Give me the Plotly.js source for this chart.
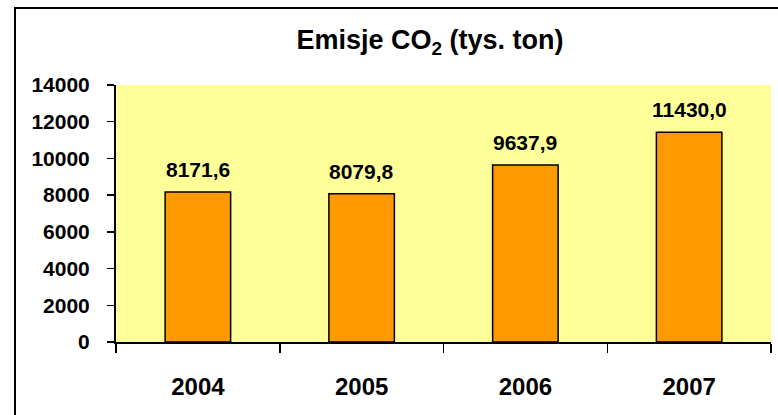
<!DOCTYPE html>
<html><head><meta charset="utf-8">
<script src="https://cdn.plot.ly/plotly-3.0.1.min.js"></script>
<style>html,body{margin:0;padding:0;background:#fff}#c{width:778px;height:415px}</style>
</head><body><div id="c"></div>
<script>
const years = ['2004', '2005', '2006', '2007'];
const emissions = [8171.6, 8079.8, 9637.9, 11430.0];
const yTicks = [0, 2000, 4000, 6000, 8000, 10000, 12000, 14000];

const fmt = v => v.toFixed(1).replace('.', ',');
const F = 'Arial, "Liberation Sans", sans-serif';

const L = 116, R = 7, T = 85, B = 73, W = 778, H = 415;
const pw = W - L - R, ph = H - T - B;

const trace = {
  type: 'bar', x: years, y: emissions, width: 0.4,
  marker: {color: '#FF9900', line: {color: '#000', width: 1.5}},
  hoverinfo: 'none'
};

const annotations = years.map((c, i) => ({
  x: i, y: emissions[i], xref: 'x', yref: 'y', text: fmt(emissions[i]),
  showarrow: false, yanchor: 'bottom', yshift: 9,
  font: {family: F, size: 21, color: '#000', weight: 'bold'}
}));

const layout = {
  width: W, height: H,
  margin: {l: L, r: R, t: T, b: B, pad: 0},
  paper_bgcolor: '#fff', plot_bgcolor: '#FFFF99',
  showlegend: false,
  title: {text: '<b>Emisje CO<sub>2</sub> (tys. ton)</b>', x: 430 / W, xanchor: 'center', y: 1 - 40 / H, yanchor: 'middle', font: {family: F, size: 27, color: '#000'}},
  xaxis: {
    type: 'category', range: [-0.5, years.length - 0.5], autorange: false,
    showgrid: false, showline: true, linecolor: '#000', linewidth: 2,
    ticks: 'outside', tickson: 'boundaries', ticklen: 9, tickwidth: 1.5, tickcolor: '#000',
    tickfont: {family: F, size: 24, color: '#000', weight: 'bold'}, ticklabelstandoff: 22,
    fixedrange: true
  },
  yaxis: {
    range: [0, 14000], autorange: false, tickvals: yTicks, ticktext: yTicks.map(String),
    showgrid: false, zeroline: false, showline: true, linecolor: '#000', linewidth: 2,
    ticks: 'outside', ticklen: 7, tickwidth: 1.5, tickcolor: '#000',
    tickfont: {family: F, size: 21, color: '#000', weight: 'bold'}, ticklabelstandoff: 13,
    fixedrange: true
  },
  annotations: annotations,
  shapes: [{
    type: 'rect', xref: 'paper', yref: 'paper',
    x0: (15 - L) / pw, x1: (W + 20 - L) / pw,
    y0: -(B + 20) / ph, y1: (H - B - 8) / ph,
    line: {color: '#000', width: 2}, fillcolor: 'rgba(0,0,0,0)', layer: 'below'
  }]
};

Plotly.newPlot('c', [trace], layout, {displayModeBar: false, staticPlot: true});
</script></body></html>
